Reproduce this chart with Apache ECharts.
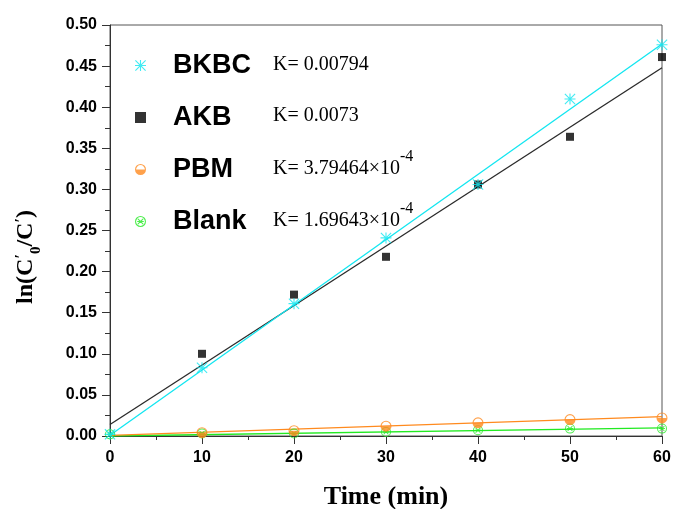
<!DOCTYPE html>
<html><head><meta charset="utf-8">
<script src="https://cdn.jsdelivr.net/npm/echarts@6/dist/echarts.min.js"></script>
<style>html,body{margin:0;padding:0;background:#fff}#c{width:673px;height:509px}</style>
</head><body><div id="c"></div>
<script>
// ---- data ----
const seriesNames = ['BKBC', 'AKB', 'PBM', 'Blank'];
const kLabels = ['K= 0.00794', 'K= 0.0073', 'K= 3.79464\u00d710', 'K= 1.69643\u00d710'];
const kExponents = ['', '', '-4', '-4'];
const xTickLabels = ['0', '10', '20', '30', '40', '50', '60'];
const yTickLabels = ['0.00','0.05','0.10','0.15','0.20','0.25','0.30','0.35','0.40','0.45','0.50'];

const timeBKBC = [0, 10, 20, 30, 40, 50, 60];
const valBKBC  = [0.002, 0.083, 0.161, 0.241, 0.306, 0.410, 0.476];
const timeAKB  = [10, 20, 30, 40, 50, 60];
const valAKB   = [0.100, 0.172, 0.218, 0.306, 0.364, 0.461];
const timePBM  = [10, 20, 30, 40, 50, 60];
const valPBM   = [0.004, 0.0065, 0.012, 0.016, 0.020, 0.022];
const timeBlank = [0, 10, 20, 30, 40, 50, 60];
const valBlank  = [0.002, 0.003, 0.003, 0.005, 0.007, 0.009, 0.009];

// fitted lines (end points)
const fitX     = [0, 60];
const fitBKBC  = [0.001, 0.477];
const fitAKB   = [0.0139, 0.448];
const fitPBM   = [0.0008, 0.0235];
const fitBlank = [0.000, 0.0098];

// ---- styling ----
const colors = { BKBC: '#12e6f0', AKB: '#000000', PBM: '#ff8a1e', Blank: '#22ea22' };
const lineColors = { BKBC: '#12e6f0', AKB: '#2a2a2a', PBM: '#ff8a1e', Blank: '#22ea22' };

const starPath = 'path://M9,0L11,0L11,20L9,20Z M0,9L20,9L20,11L0,11Z M0,1.4L1.4,0L20,18.6L18.6,20Z M18.6,0L20,1.4L1.4,20L0,18.6Z';
const halfCirclePath = 'path://M0,10A10,10 0 1,1 20,10A10,10 0 1,1 0,10Z M2,10L18,10A8,8 0 0,0 2,10Z';
const crossCirclePath = 'path://M0,10A10,10 0 1,1 20,10A10,10 0 1,1 0,10Z M2,10A8,8 0 1,0 18,10A8,8 0 1,0 2,10Z M4.5,5.9L5.9,4.5L15.5,14.1L14.1,15.5Z M14.1,4.5L15.5,5.9L5.9,15.5L4.5,14.1Z M4,9L16,9L16,11L4,11Z';

const symbols = { BKBC: starPath, AKB: 'rect', PBM: halfCirclePath, Blank: crossCirclePath };
const symbolSizes = { BKBC: 11, AKB: 8, PBM: 11, Blank: 10 };

const zip = (xs, ys) => xs.map((x, i) => [x, ys[i]]);
const pointData = { BKBC: zip(timeBKBC, valBKBC), AKB: zip(timeAKB, valAKB), PBM: zip(timePBM, valPBM), Blank: zip(timeBlank, valBlank) };
const fitData = { BKBC: zip(fitX, fitBKBC), AKB: zip(fitX, fitAKB), PBM: zip(fitX, fitPBM), Blank: zip(fitX, fitBlank) };

const series = [];
['Blank', 'PBM', 'AKB', 'BKBC'].forEach(n => {
  series.push({
    name: n + ' fit', type: 'line', data: fitData[n], showSymbol: false, silent: true,
    lineStyle: { color: lineColors[n], width: 1.3 }, z: 2, animation: false
  });
});
['Blank', 'PBM', 'AKB', 'BKBC'].forEach(n => {
  series.push({
    name: n, type: 'scatter', data: pointData[n], symbol: symbols[n], symbolSize: symbolSizes[n],
    itemStyle: { color: colors[n] }, z: 3, animation: false
  });
});

const serif = '"Liberation Serif", "Times New Roman", serif';
const sans = '"Liberation Sans", Arial, sans-serif';

const kRows = [64, 115, 167, 219];
const graphic = kLabels.map((t, i) => ({
  type: 'text', left: 273, top: kRows[i] - (kExponents[i] ? 18 : 9),
  style: {
    text: '{k|' + t + '}' + (kExponents[i] ? '{s|' + kExponents[i] + '}' : ''),
    rich: {
      k: { fontFamily: serif, fontSize: 20, fill: '#000', lineHeight: 30, verticalAlign: 'bottom' },
      s: { fontFamily: serif, fontSize: 16, fill: '#000', lineHeight: 16, verticalAlign: 'top' }
    }
  }
}));
graphic.push({
  type: 'text', x: 29, y: 257, rotation: Math.PI / 2,
  style: {
    text: '{a|ln(C}{p|\u2032}{s|0}{a|/C}{p|\u2032}{a|)}',
    align: 'center', verticalAlign: 'middle',
    rich: {
      a: { fontFamily: serif, fontWeight: 'bold', fontSize: 24, fill: '#000', lineHeight: 30, verticalAlign: 'top' },
      p: { fontFamily: serif, fontWeight: 'bold', fontSize: 16, fill: '#000', lineHeight: 16, verticalAlign: 'top' },
      s: { fontFamily: serif, fontWeight: 'bold', fontSize: 15, fill: '#000', lineHeight: 15, verticalAlign: 'bottom' }
    }
  }
});

const chart = echarts.init(document.getElementById('c'), null, { renderer: 'canvas' });
chart.setOption({
  backgroundColor: '#fff',
  animation: false,
  grid: { left: 110, right: 11, top: 25, bottom: 73, show: true, borderColor: '#555', borderWidth: 1,
    containLabel: false, outerBoundsMode: 'none' },
  legend: {
    orient: 'vertical', left: 130, top: 47, itemGap: 25, itemWidth: 11, itemHeight: 11,
    data: seriesNames.slice(), selectedMode: false,
    textStyle: { fontFamily: sans, fontWeight: 'bold', fontSize: 27, color: '#000', padding: [0, 0, 0, 22] }
  },
  xAxis: {
    type: 'value', min: 0, max: 60, interval: 10,
    name: 'Time (min)', nameLocation: 'middle', nameGap: 48,
    nameTextStyle: { fontFamily: serif, fontWeight: 'bold', fontSize: 26, color: '#000' },
    axisLine: { show: true, onZero: false, lineStyle: { color: '#333', width: 1 } },
    axisTick: { show: true, inside: false, length: 8, lineStyle: { color: '#333' } },
    minorTick: { show: true, splitNumber: 2, length: 4, lineStyle: { color: '#333' } },
    splitLine: { show: false },
    axisLabel: { margin: 14, fontFamily: sans, fontWeight: 'bold', fontSize: 16, color: '#000',
      formatter: v => xTickLabels[Math.round(v / 10)] }
  },
  yAxis: {
    type: 'value', min: 0, max: 0.5, interval: 0.05,
    axisLine: { show: true, onZero: false, lineStyle: { color: '#333', width: 1 } },
    axisTick: { show: true, inside: false, length: 8, lineStyle: { color: '#333' } },
    minorTick: { show: true, splitNumber: 2, length: 5, lineStyle: { color: '#333' } },
    splitLine: { show: false },
    axisLabel: { margin: 13, fontFamily: sans, fontWeight: 'bold', fontSize: 16, color: '#000',
      formatter: v => yTickLabels[Math.round(v / 0.05)] }
  },
  graphic: graphic,
  series: series
});
</script></body></html>
